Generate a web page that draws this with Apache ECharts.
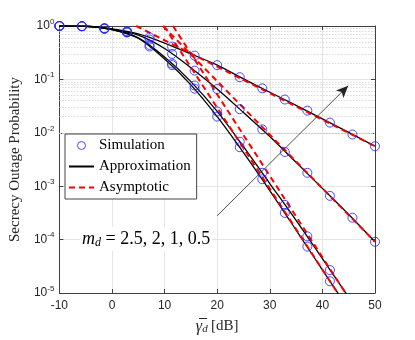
<!DOCTYPE html>
<html>
<head>
<meta charset="utf-8">
<script src="https://cdn.jsdelivr.net/npm/echarts@6/dist/echarts.min.js"></script>
<style>html,body{margin:0;padding:0;background:#fff}#main{width:415px;height:340px}</style>
</head>
<body>
<div id="main"></div>
<script>
// simulation points (15 SNR values)
var simX = [-10, -5.714, -1.429, 2.857, 7.143, 11.43, 15.71, 20, 24.29, 28.57, 32.86, 37.14, 41.43, 45.71, 50];
var simM05 = [1.0, 0.99, 0.912, 0.794, 0.615, 0.412, 0.279, 0.185, 0.110, 0.068, 0.042, 0.026, 0.0155, 0.0093, 0.0056];
var simM1 = [1.0, 0.99, 0.90, 0.776, 0.558, 0.30, 0.146, 0.066, 0.0277, 0.0116, 0.00437, 0.00178, 6.6e-4, 2.57e-4, 9.1e-5];
var simM2 = [1.0, 0.993, 0.89, 0.76, 0.442, 0.198, 0.077, 0.0251, 0.00682, 0.00178, 4.47e-4, 1.15e-4, 2.69e-5, null, null];
var simM25 = [1.0, 0.993, 0.89, 0.76, 0.412, 0.185, 0.067, 0.0201, 0.00537, 0.00135, 3.16e-4, 7.4e-5, 1.66e-5, null, null];

// approximation curves
var apxX = [-10, -5, 0, 5, 10, 15, 20, 25, 30, 35, 40, 45, 50];
var apxM05 = [1.0, 0.99, 0.88, 0.71, 0.48, 0.30, 0.185, 0.102, 0.0575, 0.0327, 0.0182, 0.0102, 0.0056];
var apxM1 = [1.0, 0.99, 0.87, 0.676, 0.38, 0.166, 0.066, 0.024, 0.0085, 0.0028, 9.1e-4, 2.95e-4, 9.1e-5];
var apxM2 = [1.0, 0.99, 0.86, 0.60, 0.263, 0.091, 0.0251, 0.0055, 0.00112, 2.29e-4, 4.4e-5, 8.3e-6, null];
var apxM25 = [1.0, 0.99, 0.86, 0.59, 0.24, 0.079, 0.0201, 0.00427, 8.3e-4, 1.51e-4, 2.7e-5, 5e-6, null];

// asymptotes: straight lines, [x, P] at both ends
var asyM05 = [[4.6, 1], [50, 0.0056]];
var asyM1 = [[9.7, 1], [50, 9.1e-5]];
var asyM2 = [[11.6, 1], [44.4, 1e-5]];
var asyM25 = [[9.9, 1], [42.9, 1e-5]];

function zip(xs, ys) {
    return xs.map(function (x, i) { return [x, ys[i]]; });
}

var minorLines = [];
for (var d = -5; d < 0; d++) {
    for (var k = 2; k <= 9; k++) minorLines.push({ yAxis: k * Math.pow(10, d) });
}

var axisCol = '#404040';
var serif = 'Liberation Serif';
var sans = 'Liberation Sans';

var series = [];
[apxM05, apxM1, apxM2, apxM25].forEach(function (v, i) {
    var s = {
        name: 'Approximation', type: 'line', smooth: 0.3, symbol: 'none',
        data: zip(apxX, v),
        lineStyle: { color: '#000', width: 1.3 }, itemStyle: { color: '#000' }, z: 3
    };
    if (i === 0) {
        s.markLine = {
            silent: true, symbol: 'none', label: { show: false }, z: 1,
            lineStyle: { type: [1, 2], color: '#c8c8c8', width: 1 },
            data: minorLines, animation: false
        };
    }
    series.push(s);
});
[asyM05, asyM1, asyM2, asyM25].forEach(function (v) {
    series.push({
        name: 'Asymptotic', type: 'line', symbol: 'none', data: v,
        lineStyle: { color: '#ff0000', width: 2, type: [6, 4] }, itemStyle: { color: '#ff0000' }, z: 4
    });
});
[simM05, simM1, simM2, simM25].forEach(function (v) {
    series.push({
        name: 'Simulation', type: 'scatter', symbol: 'circle', symbolSize: 9,
        data: zip(simX, v),
        itemStyle: { color: 'rgba(0,0,0,0)', borderColor: '#1f1fff', borderWidth: 1 }, z: 5
    });
});
// arrow annotation
series.push({
    name: 'arrow', type: 'line', data: [], silent: true,
    markLine: {
        silent: true, label: { show: false }, symbol: ['none', 'arrow'], symbolSize: [8, 12],
        lineStyle: { color: '#222', width: 0.8, type: 'solid' },
        data: [[{ coord: [20, 2.8e-4] }, { coord: [44.9, 0.076] }]], animation: false
    }
});

var hidden = { color: 'rgba(0,0,0,0)', borderColor: 'rgba(0,0,0,0)', opacity: 0 };

var myChart = echarts.init(document.getElementById('main'));
var option = {
    backgroundColor: '#fff',
    animation: false,
    grid: { left: 55, top: 26, width: 320, height: 277 },
    legend: {
        data: [
            { name: 'Simulation', icon: 'circle',
              itemStyle: { color: 'rgba(0,0,0,0)', borderColor: '#1f1fff', borderWidth: 1 } },
            { name: 'Approximation', itemStyle: hidden },
            { name: 'Asymptotic', itemStyle: hidden }
        ],
        orient: 'vertical', left: 65, top: 134,
        itemWidth: 25, itemHeight: 8, itemGap: 6,
        backgroundColor: '#fff', borderColor: '#444', borderWidth: 1, padding: [4, 6, 4, 3],
        textStyle: { fontFamily: serif, fontSize: 15, color: '#000' },
        selectedMode: false
    },
    xAxis: [{
        type: 'value', min: -10, max: 50, interval: 10,
        name: '{g|γ\u0305}{d|d} {b|[dB]}', nameLocation: 'middle', nameGap: 25,
        nameTextStyle: { rich: {
            g: { fontFamily: serif, fontSize: 16, color: '#262626', fontStyle: 'italic' },
            d: { fontFamily: serif, fontSize: 11, color: '#262626', fontStyle: 'italic', padding: [6, 0, 0, 0] },
            b: { fontFamily: serif, fontSize: 15, color: '#262626' }
        } },
        axisLine: { onZero: false, lineStyle: { color: axisCol } },
        axisTick: { inside: true, length: 4, lineStyle: { color: axisCol } },
        axisLabel: { fontFamily: sans, fontSize: 12, color: '#262626', margin: 7 },
        splitLine: { lineStyle: { color: '#e4e4e4', width: 1 } }
    }, {
        type: 'value', min: -10, max: 50, interval: 10, position: 'top',
        axisLine: { onZero: false, lineStyle: { color: axisCol } },
        axisTick: { inside: true, length: 4, lineStyle: { color: axisCol } },
        axisLabel: { show: false }, splitLine: { show: false }
    }],
    yAxis: [{
        type: 'log', logBase: 10, min: 1e-5, max: 1, splitNumber: 5,
        name: 'Secrecy Outage Probability', nameLocation: 'middle', nameGap: 31,
        nameTextStyle: { fontFamily: serif, fontSize: 15, color: '#262626' },
        axisLine: { show: true, onZero: false, lineStyle: { color: axisCol } },
        axisTick: { show: true, inside: true, length: 4, lineStyle: { color: axisCol } },
        axisLabel: {
            fontFamily: sans, fontSize: 12, color: '#262626', margin: 5,
            formatter: function (v) { return '10{s|' + Math.round(Math.log10(v)) + '}'; },
            rich: { s: { fontFamily: sans, fontSize: 8, color: '#262626', padding: [0, 0, 9, 0] } }
        },
        splitLine: { lineStyle: { color: '#e4e4e4', width: 1 } }
    }, {
        type: 'log', logBase: 10, min: 1e-5, max: 1, splitNumber: 5, position: 'right',
        axisLine: { show: true, onZero: false, lineStyle: { color: axisCol } },
        axisTick: { show: true, inside: true, length: 4, lineStyle: { color: axisCol } },
        axisLabel: { show: false }, splitLine: { show: false }
    }],
    graphic: [{
        type: 'text', left: 80, top: 227, z: 10,
        style: {
            rich: {
                m: { fontFamily: serif, fontSize: 18, fontStyle: 'italic', fill: '#000' },
                d: { fontFamily: serif, fontSize: 12, fontStyle: 'italic', fill: '#000', padding: [8, 0, 0, 0] },
                t: { fontFamily: serif, fontSize: 18, fill: '#000' }
            },
            text: '{m|m}{d|d}{t| = 2.5, 2, 1, 0.5}',
            backgroundColor: '#fff', padding: [2, 2]
        }
    }],
    series: series
};
myChart.setOption(option);
</script>
</body>
</html>
